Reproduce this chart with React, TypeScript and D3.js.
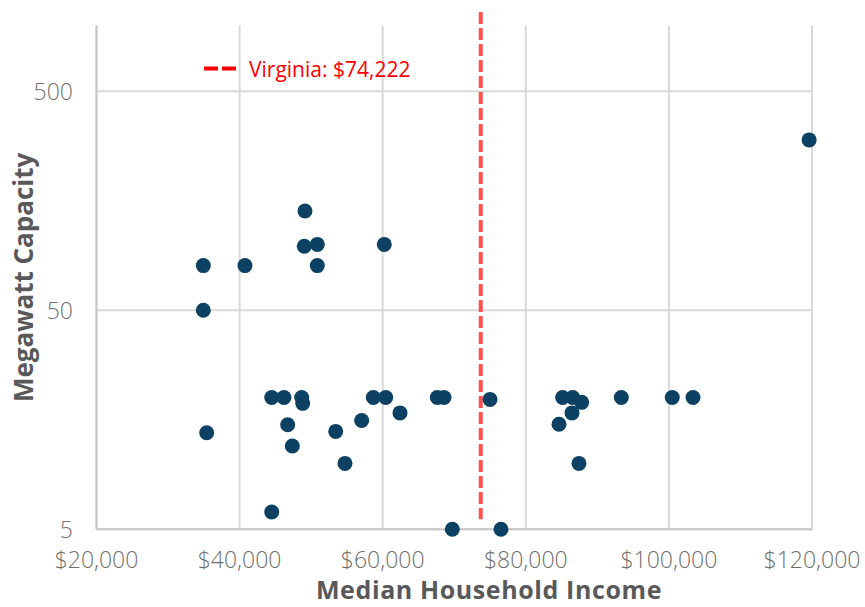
import React from "react";
import * as d3 from "d3";

const incomes = [
  119600, 49140, 49040, 50860, 60220, 34930, 40750, 50860, 34930, 44490, 46200,
  48680, 48820, 58690, 60420, 67630, 68570, 62420, 57060, 46720, 53430, 35400,
  47370, 54730, 44490, 69730, 75000, 76530, 85150, 86550, 87810, 86460, 84640,
  87430, 93350, 100470, 103370,
];
const capacities = [
  300, 142, 98, 100, 100, 80, 80, 80, 50, 20, 20, 20, 18.8, 20, 20, 20, 20, 17,
  15.7, 15, 14, 13.8, 12, 10, 6, 5, 19.6, 5, 20, 20, 19, 17, 15.1, 10, 20, 20, 20,
];
const xTicks = [20000, 40000, 60000, 80000, 100000, 120000];
const yTicks = [5, 50, 500];
const xDomain = [20000, 120000];
const yDomain = [5, 1000];
const virginiaLabel = "Virginia: $74,222";
const virginiaLineIncome = 73700;
const virginiaLineRange = [5.55, 1150];
const xTitle = "Median Household Income";
const yTitle = "Megawatt Capacity";

export default function App() {
  const W = 865;
  const H = 607;
  const x = d3.scaleLinear().domain(xDomain).range([96.5, 812]);
  const y = d3.scaleLog().domain(yDomain).range([529.3, 25.4]);
  const fmt = d3.format("$,.0f");
  const font = "'Open Sans', Lato, sans-serif";
  const top = y(yDomain[1]);
  const bottom = y(yDomain[0]);
  const left = x(xDomain[0]);
  const right = x(xDomain[1]);
  const pts = incomes.map((v, i) => ({ x: v, y: capacities[i] }));

  return (
    <svg
      width={W}
      height={H}
      style={{ position: "absolute", left: 0, top: 0, background: "#fff" }}
      fontFamily={font}
    >
      {/* gridlines */}
      {xTicks.map((t) => (
        <line
          key={"gx" + t}
          x1={x(t)}
          x2={x(t)}
          y1={top}
          y2={bottom}
          stroke="#d9d9d9"
          strokeWidth={2}
        />
      ))}
      {yTicks.map((t) => (
        <line
          key={"gy" + t}
          x1={left}
          x2={right}
          y1={y(t)}
          y2={y(t)}
          stroke="#d9d9d9"
          strokeWidth={2}
        />
      ))}
      {/* axis lines */}
      <line x1={left} x2={left} y1={top} y2={bottom} stroke="#c8c8c8" strokeWidth={2} />
      <line x1={left} x2={right} y1={bottom} y2={bottom} stroke="#c8c8c8" strokeWidth={2} />

      {/* tick labels */}
      {xTicks.map((t) => (
        <text
          key={"tx" + t}
          x={x(t)}
          y={568}
          textAnchor="middle"
          fontSize={23}
          fontWeight={300}
          fill="#6f6f6f"
        >
          {fmt(t)}
        </text>
      ))}
      {yTicks.map((t) => (
        <text
          key={"ty" + t}
          x={73}
          y={y(t)}
          dy="0.36em"
          textAnchor="end"
          fontSize={23}
          fontWeight={300}
          fill="#6f6f6f"
        >
          {t}
        </text>
      ))}

      {/* Virginia line */}
      <line
        x1={x(virginiaLineIncome)}
        x2={x(virginiaLineIncome)}
        y1={y(virginiaLineRange[1])}
        y2={y(virginiaLineRange[0])}
        stroke="#ff4f4f"
        strokeWidth={4}
        strokeDasharray="12 4"
      />

      {/* points */}
      {pts.map((p, i) => (
        <circle key={i} cx={x(p.x)} cy={y(p.y)} r={7.5} fill="#0d4163" />
      ))}

      {/* legend */}
      <line x1={204} x2={238} y1={68.5} y2={68.5} stroke="#ff0000" strokeWidth={4} strokeDasharray="14 4" />
      <text x={249} y={77} fontSize={21} fill="#ff0000">
        {virginiaLabel}
      </text>

      {/* axis titles */}
      <text
        x={489}
        y={599}
        textAnchor="middle"
        fontSize={25}
        fontWeight={700}
        letterSpacing={0.6}
        fill="#595959"
      >
        {xTitle}
      </text>
      <text
        transform={`translate(33, ${(top + bottom) / 2}) rotate(-90)`}
        textAnchor="middle"
        fontSize={26}
        fontWeight={700}
        fill="#595959"
      >
        {yTitle}
      </text>
    </svg>
  );
}
